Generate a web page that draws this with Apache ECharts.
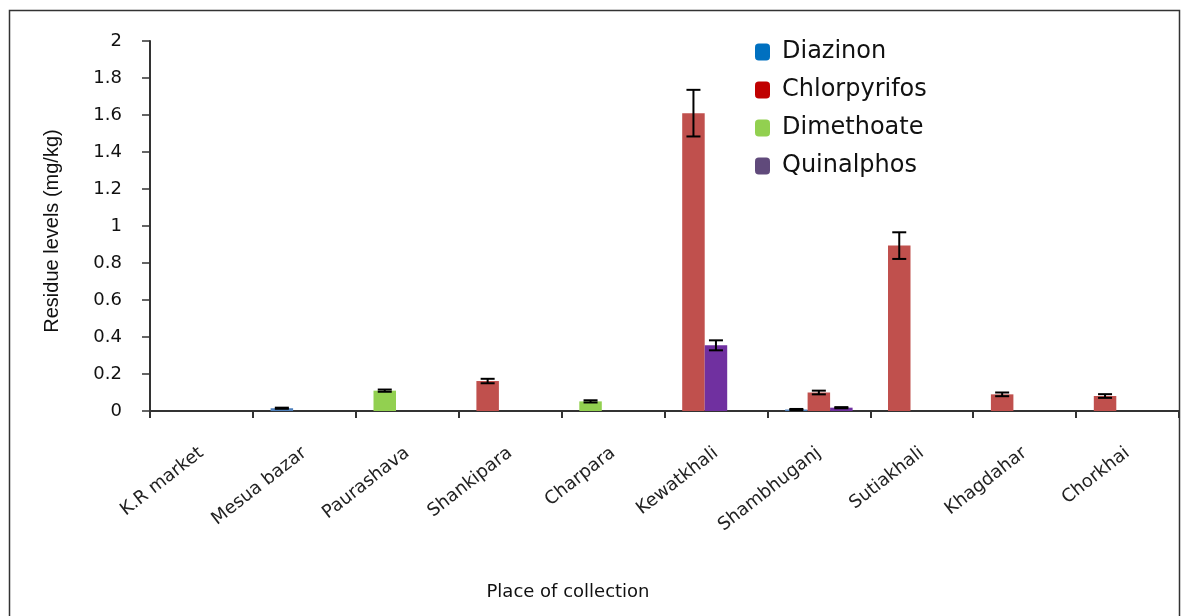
<!DOCTYPE html>
<html>
<head>
<meta charset="utf-8">
<title>Residue levels by place of collection</title>
<script src="https://cdn.jsdelivr.net/npm/echarts@6/dist/echarts.min.js"></script>
<style>
  html, body { margin: 0; padding: 0; background: #fff; }
  #chart { width: 1192px; height: 616px; }
</style>
</head>
<body>
<div id="chart"></div>
<script>
// Places where samples were collected
const places = ['K.R market', 'Mesua bazar', 'Paurashava', 'Shankipara', 'Charpara',
                'Kewatkhali', 'Shambhuganj', 'Sutiakhali', 'Khagdahar', 'Chorkhai'];

// Mean residue levels (mg/kg); null = not detected
const diazinon     = [null, 0.015, null, null, null, null, 0.008, null, null, null];
const chlorpyrifos = [null, null, null, 0.162, null, 1.61, 0.10, 0.894, 0.09, 0.081];
const dimethoate   = [null, null, 0.11, null, 0.052, null, null, null, null, null];
const quinalphos   = [null, null, null, null, null, 0.355, 0.018, null, null, null];

// Standard errors (mg/kg)
const diazinonErr     = [null, 0.003, null, null, null, null, 0.003, null, null, null];
const chlorpyrifosErr = [null, null, null, 0.012, null, 0.126, 0.01, 0.072, 0.01, 0.01];
const dimethoateErr   = [null, null, 0.006, null, 0.006, null, null, null, null, null];
const quinalphosErr   = [null, null, null, null, null, 0.027, 0.003, null, null, null];

const yTicks = { min: 0, max: 2, step: 0.2 };

const pesticides = [
  { name: 'Diazinon',     values: diazinon,     errors: diazinonErr,     bar: '#4F81BD', key: '#0070C0' },
  { name: 'Chlorpyrifos', values: chlorpyrifos, errors: chlorpyrifosErr, bar: '#C0504D', key: '#C00000' },
  { name: 'Dimethoate',   values: dimethoate,   errors: dimethoateErr,   bar: '#92D050', key: '#92D050' },
  { name: 'Quinalphos',   values: quinalphos,   errors: quinalphosErr,   bar: '#7030A0', key: '#604A7B' }
];

// Each place shows only the pesticides that were detected there,
// packed left to right into a shared set of bar slots.
const SLOT_COUNT = 3;
const BAR_W = 22.5;
const slots = Array.from({ length: SLOT_COUNT }, () => places.map(() => '-'));
const errorItems = [];
places.forEach((p, i) => {
  let s = 0;
  pesticides.forEach(pe => {
    const v = pe.values[i];
    if (v === null || v === undefined) return;
    slots[s][i] = { value: v, itemStyle: { color: pe.bar } };
    if (pe.errors[i] != null) errorItems.push([i, s, v, pe.errors[i]]);
    s++;
  });
});

const slotSeries = slots.map((data, s) => ({
  type: 'bar',
  name: 'slot' + s,
  data: data,
  barWidth: BAR_W,
  barGap: '0%',
  silent: true,
  z: 2
}));

const errorSeries = {
  type: 'custom',
  name: 'error',
  silent: true,
  z: 5,
  data: errorItems,
  renderItem: function (params, api) {
    const cat = api.value(0);
    const slot = api.value(1);
    const v = api.value(2);
    const e = api.value(3);
    const off = (slot - (SLOT_COUNT - 1) / 2) * BAR_W;
    const top = api.coord([cat, v + e]);
    const bot = api.coord([cat, Math.max(v - e, 0)]);
    const x = top[0] + off;
    const cap = 7;
    const style = { stroke: '#000', lineWidth: 2, fill: null };
    return {
      type: 'group',
      children: [
        { type: 'line', shape: { x1: x, y1: top[1], x2: x, y2: bot[1] }, style: style },
        { type: 'line', shape: { x1: x - cap, y1: top[1], x2: x + cap, y2: top[1] }, style: style },
        { type: 'line', shape: { x1: x - cap, y1: bot[1], x2: x + cap, y2: bot[1] }, style: style }
      ]
    };
  }
};

// Key entries: empty line series so they take no bar slot
const keySeries = pesticides.map(pe => ({
  type: 'line',
  name: pe.name,
  data: [],
  itemStyle: { color: pe.key },
  lineStyle: { color: pe.key }
}));

const chart = echarts.init(document.getElementById('chart'), null, { renderer: 'canvas' });
chart.setOption({
  backgroundColor: '#fff',
  animation: false,
  textStyle: { fontFamily: 'DejaVu Sans' },
  graphic: [
    {
      type: 'rect',
      left: 7, top: 8,
      shape: { width: 1170, height: 640 },
      style: { fill: null, stroke: '#333', lineWidth: 1.5 },
      silent: true, z: -1
    },
    {
      type: 'text',
      x: 568, y: 592,
      style: {
        text: 'Place of collection',
        fontFamily: 'DejaVu Sans', fontSize: 18, fill: '#111',
        textAlign: 'center', textVerticalAlign: 'middle'
      },
      silent: true
    }
  ],
  grid: { left: 150, right: 13, top: 41, bottom: 205 },
  legend: {
    orient: 'vertical',
    left: 750,
    top: 31,
    icon: 'roundRect',
    itemWidth: 15,
    itemHeight: 17,
    itemGap: 6,
    data: pesticides.map(p => p.name),
    textStyle: { fontFamily: 'DejaVu Sans', fontSize: 24, color: '#111', lineHeight: 24, padding: [8, 0, 0, 7] },
    selectedMode: false
  },
  xAxis: {
    type: 'category',
    data: places,
    boundaryGap: true,
    axisLine: { lineStyle: { color: '#333', width: 2 } },
    axisTick: { show: true, alignWithLabel: false, length: 7, lineStyle: { color: '#333', width: 2 } },
    axisLabel: { interval: 0, rotate: 38, margin: 40, fontSize: 18, color: '#222', fontFamily: 'DejaVu Sans' },
    splitLine: { show: false }
  },
  yAxis: {
    type: 'value',
    min: yTicks.min,
    max: yTicks.max,
    interval: yTicks.step,
    name: 'Residue levels (mg/kg)',
    nameLocation: 'middle',
    nameGap: 88,
    nameTextStyle: { fontFamily: 'Liberation Sans', fontSize: 20, color: '#111', padding: [0, 10, 0, 0] },
    axisLine: { show: true, lineStyle: { color: '#333', width: 2 } },
    axisTick: { show: true, length: 8, lineStyle: { color: '#333', width: 1.5 } },
    axisLabel: { margin: 28, fontSize: 18, color: '#111', fontFamily: 'DejaVu Sans' },
    splitLine: { show: false }
  },
  series: [...slotSeries, errorSeries, ...keySeries]
});
</script>
</body>
</html>
